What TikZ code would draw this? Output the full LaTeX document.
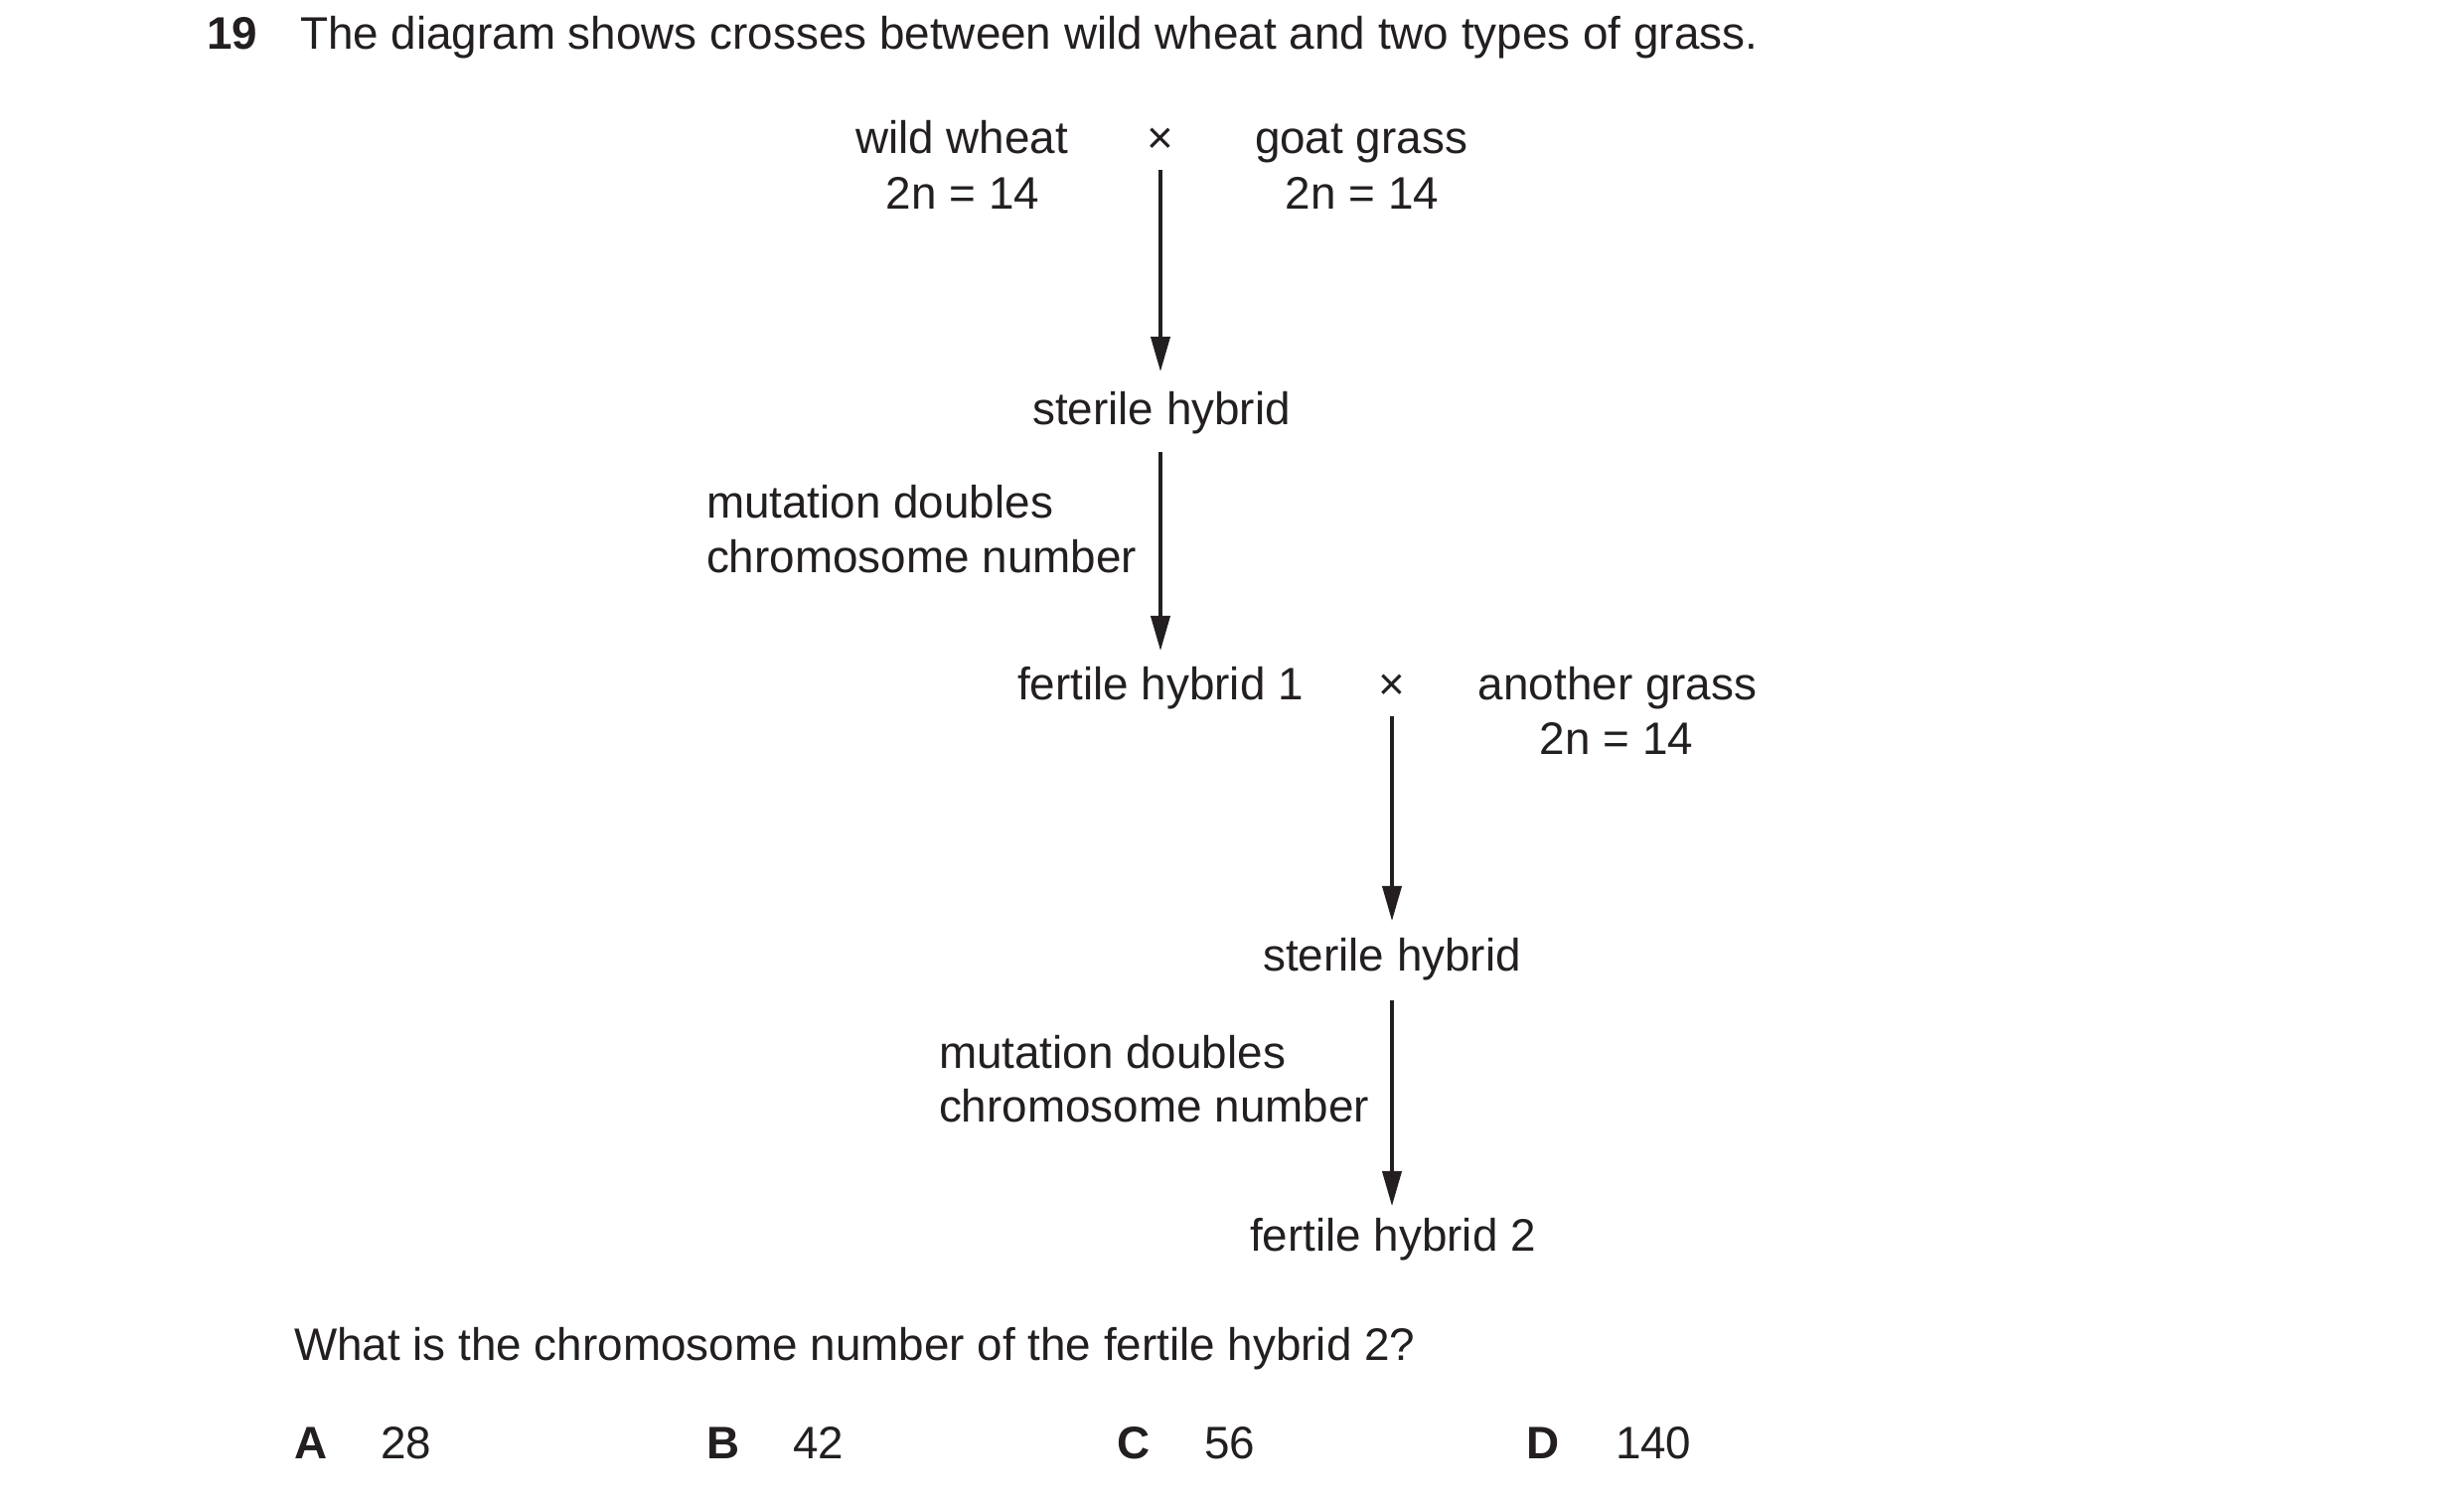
\documentclass[tikz,border=0pt]{standalone}
\usepackage{fontspec}
\setmainfont{Liberation Sans}
\usetikzlibrary{arrows.meta,calc}
\definecolor{ink}{HTML}{231F20}
\begin{document}
\begin{tikzpicture}[x=0.24pt,y=-0.24pt,
  txt/.style={inner sep=0pt,outer sep=0pt,anchor=base,text=ink,font=\fontsize{11pt}{13.4pt}\selectfont},
  ltxt/.style={txt,anchor=base west},
  btxt/.style={ltxt,font=\fontsize{11pt}{13.4pt}\selectfont\bfseries},
  arr/.style={draw=ink,line width=0.8pt,-{Triangle[length=8.4pt,width=4.6pt]}}]
\useasboundingbox[fill=white] (0,0) rectangle (2480,1510);
% title
\node[btxt] (qnum) at (208,50) {19};
\node[ltxt] (title) at (302,50) {The diagram shows crosses between wild wheat and two types of grass.};
% first cross
\node[txt] (ww) at (968,155) {wild wheat};
\node[txt] (ww2n) at (969,211) {2n = 14};
\node[txt] (x1) at (1168,155) {×};
\node[txt] (gg) at (1370,155) {goat grass};
\node[txt] (gg2n) at (1371,211) {2n = 14};
\node[txt] (sh1) at (1169,428) {sterile hybrid};
\node[ltxt] (mut1a) at (711,522) {mutation doubles};
\node[ltxt] (mut1b) at (711,577) {chromosome number};
\node[txt] (fh1) at (1168,705) {fertile hybrid 1};
% second cross
\node[txt] (x2) at (1401,705) {×};
\node[txt] (ag) at (1628,705) {another grass};
\node[txt] (ag2n) at (1627,760) {2n = 14};
\node[txt] (sh2) at (1401,978) {sterile hybrid};
\node[ltxt] (mut2a) at (945,1076) {mutation doubles};
\node[ltxt] (mut2b) at (945,1130) {chromosome number};
\node[txt] (fh2) at (1402,1260) {fertile hybrid 2};
% arrows
\draw[arr] ($(x1.base)+(0,16)$) -- ($(x1.base)+(0,219)$);
\draw[arr] ($(sh1.base)+(-1,27)$) -- ($(fh1.base)+(0,-50)$);
\draw[arr] ($(x2.base)+(0,16)$) -- ($(sh2.base)+(0,-51)$);
\draw[arr] ($(sh2.base)+(0,29)$) -- ($(fh2.base)+(-1,-46)$);
% question
\node[ltxt] (q) at (296,1370) {What is the chromosome number of the fertile hybrid 2?};
\node[btxt] (oA) at (296,1468) {A};
\node[ltxt] (vA) at (383,1468) {28};
\node[btxt] (oB) at (711,1468) {B};
\node[ltxt] (vB) at (798,1468) {42};
\node[btxt] (oC) at (1124,1468) {C};
\node[ltxt] (vC) at (1212,1468) {56};
\node[btxt] (oD) at (1536,1468) {D};
\node[ltxt] (vD) at (1626,1468) {140};
\end{tikzpicture}
\end{document}
